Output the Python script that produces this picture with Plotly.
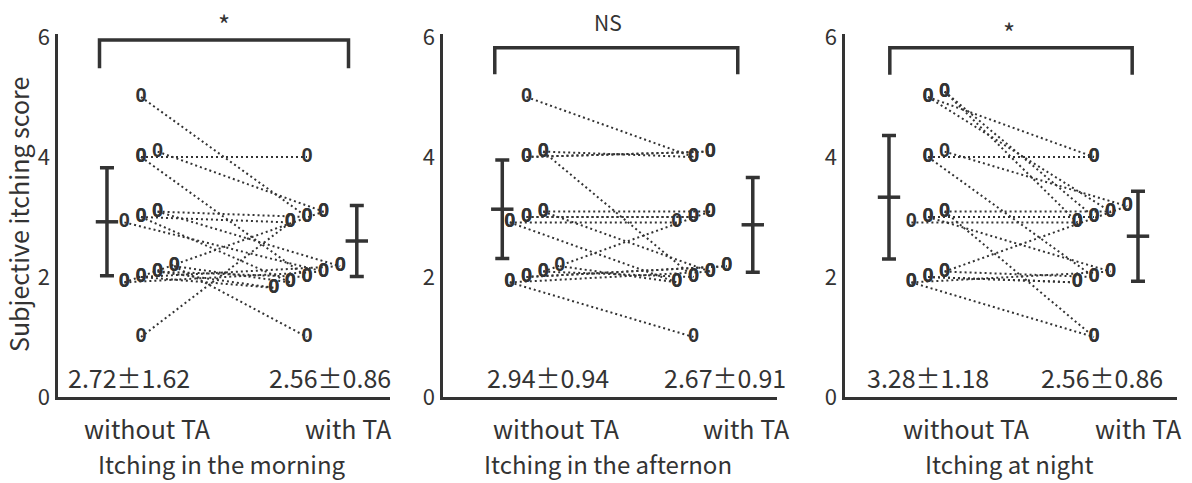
import math
import plotly.graph_objects as go

# ---------------- data ----------------
panel_titles = ["Itching in the morning", "Itching in the afternon", "Itching at night"]
group_labels = ["without TA", "with TA"]
significance = ["*", "NS", "*"]
y_ticks = [0, 2, 4, 6]

morning_without = [5, 4, 4, 4, 3, 3, 3, 3, 3, 2, 2, 2, 2, 2, 2, 2, 2, 1]
morning_with = [3, 4, 3, 2, 3, 3, 2, 2, 2, 2, 2, 2, 2, 2, 2, 3, 1, 3]

afternoon_without = [5, 4, 4, 4, 4, 3, 3, 3, 3, 3, 3, 2, 2, 2, 2, 2, 2, 2]
afternoon_with = [4, 4, 4, 4, 2, 3, 3, 3, 3, 2, 2, 2, 2, 2, 2, 2, 3, 1]

night_without = [5, 5, 5, 5, 4, 4, 4, 3, 3, 3, 3, 3, 2, 2, 2, 2, 2, 2]
night_with = [4, 3, 3, 3, 4, 3, 2, 3, 3, 3, 2, 1, 2, 2, 2, 2, 3, 1]

mean_without = [2.92, 3.13, 3.33]
sd_without = [0.90, 0.82, 1.03]
mean_with = [2.60, 2.87, 2.68]
sd_with = [0.59, 0.79, 0.75]

stat_without = ["2.72\u00b11.62", "2.94\u00b10.94", "3.28\u00b11.18"]
stat_with = ["2.56\u00b10.86", "2.67\u00b10.91", "2.56\u00b10.86"]

panels = [
    (morning_without, morning_with),
    (afternoon_without, afternoon_with),
    (night_without, night_with),
]

# ---------------- layout / style constants ----------------
W, H = 1192, 483
INK = "#333333"
FONT = "Noto Sans CJK JP"
x_dom_px = [(58, 390), (443, 777), (845, 1177)]
y_bottom_px, y_top_px = 397, 34
YMAX = 6.05
bar_x_left = [0.795, 0.855, 0.765]
bar_x_right = [2.30, 2.355, 2.265]
stat_x_left = [0.93, 1.13, 1.0]
stat_x_right = [2.14, 2.19, 2.05]
lab_x_left = [1.04, 1.18, 1.23]
lab_x_right = [2.25, 2.32, 2.27]
bracket = [(0.75, 2.25, 5.95, 5.48), (0.81, 2.265, 5.82, 5.38), (0.77, 2.23, 5.82, 5.37)]
sig_pos = [(1.5, 24), (1.49, 22), (1.49, 32)]   # (x data, y px from top)
SLOT_ORDER = [0, 1, -1, 2, -2]
DX, DY = 0.1, 0.09


def py(px):
    return (H - px) / H


def jitter_slots(values):
    """assign a small offset slot to each duplicated value (deterministic)"""
    groups = {}
    for i, v in enumerate(values):
        groups.setdefault(v, []).append(i)
    slots = [0] * len(values)
    for v, idx in groups.items():
        n = len(idx)
        nslots = max(1, min(5, math.ceil(n / 2)))
        for k, i in enumerate(idx):
            slots[i] = SLOT_ORDER[k % nslots]
    return slots


fig = go.Figure()
y_dom = [py(y_bottom_px), py(y_top_px)]

for p, (before, after) in enumerate(panels):
    xa = "x" if p == 0 else f"x{p + 1}"
    ya = "y" if p == 0 else f"y{p + 1}"
    sb = jitter_slots(before)
    sa = jitter_slots(after)
    xb = [1 + DX * s for s in sb]
    yb = [v + DY * s for v, s in zip(before, sb)]
    xw = [2 + DX * s for s in sa]
    yw = [v + DY * s for v, s in zip(after, sa)]

    lx, ly = [], []
    for a1, b1, a2, b2 in zip(xb, yb, xw, yw):
        lx += [a1, a2, None]
        ly += [b1, b2, None]
    fig.add_trace(go.Scatter(x=lx, y=ly, mode="lines", xaxis=xa, yaxis=ya,
                             line=dict(color=INK, width=2, dash="2px,3px"),
                             hoverinfo="skip", showlegend=False))
    fig.add_trace(go.Scatter(x=xb + xw, y=yb + yw, mode="text", xaxis=xa, yaxis=ya,
                             text=["0"] * (len(xb) + len(xw)),
                             textfont=dict(family="Liberation Sans", size=20,
                                           color=INK, weight="bold"),
                             showlegend=False, cliponaxis=False))
    # mean +/- sd bars
    fig.add_trace(go.Scatter(
        x=[bar_x_left[p], bar_x_right[p]], y=[mean_without[p], mean_with[p]],
        mode="markers", xaxis=xa, yaxis=ya,
        marker=dict(symbol="line-ew", size=16, color=INK,
                    line=dict(color=INK, width=3.5)),
        error_y=dict(type="data", array=[sd_without[p], sd_with[p]],
                     color=INK, thickness=3.5, width=7),
        showlegend=False, cliponaxis=False))

    x0, x1 = x_dom_px[p]
    fig.update_layout(**{
        ("xaxis" if p == 0 else f"xaxis{p + 1}"): dict(
            domain=[x0 / W, x1 / W], range=[0.5, 2.5], showgrid=False,
            zeroline=False, showticklabels=False, ticks="", showline=True,
            linecolor=INK, linewidth=2.5, anchor=ya, fixedrange=True,
            automargin=False),
        ("yaxis" if p == 0 else f"yaxis{p + 1}"): dict(
            domain=y_dom, range=[0, YMAX], showgrid=False, zeroline=False,
            tickvals=y_ticks, ticks="", showline=True, linecolor=INK,
            linewidth=2.5, anchor=xa, ticklabelstandoff=1, automargin=False,
            tickfont=dict(family=FONT, size=22, color=INK)),
    })

    bx0, bx1, btop, bbot = bracket[p]
    fig.add_shape(type="path", xref=xa, yref=ya,
                  path=f"M {bx0} {bbot} L {bx0} {btop} L {bx1} {btop} L {bx1} {bbot}",
                  line=dict(color=INK, width=3.5))
    sx, sy = sig_pos[p]
    common = dict(showarrow=False, xanchor="center", yanchor="middle")
    fig.add_annotation(x=sx, y=py(sy), xref=xa, yref="paper", text=significance[p],
                       font=dict(family=FONT, size=26 if significance[p] == "*" else 21,
                                 color=INK), **common)
    fig.add_annotation(x=stat_x_left[p], y=0.33, xref=xa, yref=ya, text=stat_without[p],
                       font=dict(family=FONT, size=25, color=INK), **common)
    fig.add_annotation(x=stat_x_right[p], y=0.33, xref=xa, yref=ya, text=stat_with[p],
                       font=dict(family=FONT, size=25, color=INK), **common)
    fig.add_annotation(x=lab_x_left[p], y=py(428), xref=xa, yref="paper",
                       text=group_labels[0],
                       font=dict(family=FONT, size=25, color=INK), **common)
    fig.add_annotation(x=lab_x_right[p], y=py(428), xref=xa, yref="paper",
                       text=group_labels[1],
                       font=dict(family=FONT, size=25, color=INK), **common)
    fig.add_annotation(x=1.49, y=py(463), xref=xa, yref="paper",
                       text=panel_titles[p],
                       font=dict(family=FONT, size=24, color=INK), **common)

fig.add_annotation(x=18 / W, y=py(215), xref="paper", yref="paper",
                   text="Subjective itching score", textangle=-90, showarrow=False,
                   xanchor="center", yanchor="middle",
                   font=dict(family=FONT, size=25, color=INK))

fig.update_layout(width=W, height=H, margin=dict(l=0, r=0, t=0, b=0, autoexpand=False),
                  paper_bgcolor="white", plot_bgcolor="white", showlegend=False)
fig.write_html("out.html")
